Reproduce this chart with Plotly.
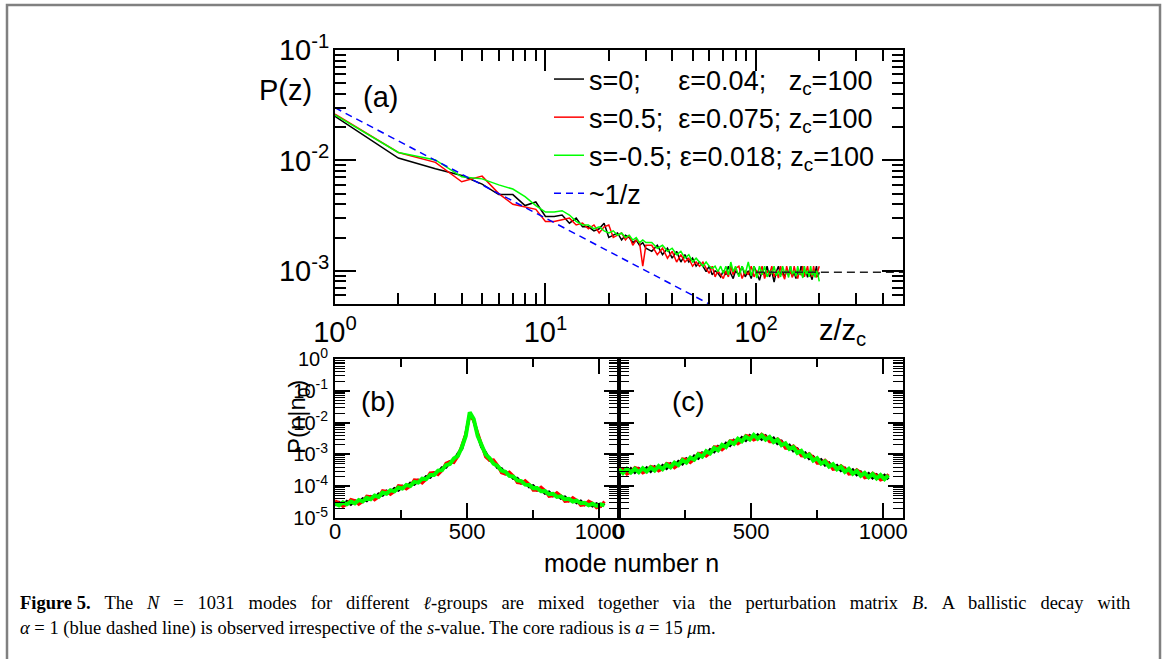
import math
import plotly.graph_objects as go

# ---------------- data ----------------
# panel (a): P(z) versus z/z_c
X_TOP = [1, 2, 3, 4, 5, 6, 7, 8, 9, 10, 11, 12, 13, 14, 15, 16, 17, 18, 19, 20,
         21, 22, 23, 24, 25, 26, 27, 28, 29, 30,
         32, 34, 36, 38, 40, 42, 44, 46, 48, 50, 52, 54, 56, 58, 60, 62, 64, 66, 68, 70,
         72, 74, 76, 78, 80,
         83, 86, 89, 92, 95, 98, 101, 104, 107, 110, 113, 116, 119, 122, 125, 128, 131,
         134, 137, 140, 143, 146, 149, 152, 155, 158, 161, 164, 167, 170, 173, 176, 179,
         182, 185, 188, 191, 194, 197, 200]

P_S0 = [0.0250, 0.0105, 0.0084, 0.0073, 0.0061, 0.0049, 0.0049, 0.0039, 0.0042, 0.0031,
        0.0031, 0.0032, 0.0027, 0.0030, 0.0025, 0.0025, 0.0023, 0.0024, 0.0027, 0.0020,
        0.0021, 0.0022, 0.0019, 0.0021, 0.0020, 0.0018, 0.0019, 0.0017, 0.0018, 0.0016,
        0.0015, 0.0017, 0.0014, 0.0016, 0.0013, 0.0015, 0.0012, 0.0014, 0.0012, 0.0013,
        0.0011, 0.0012, 0.0011, 0.00098, 0.0011, 0.00092, 0.0010, 0.00095, 0.00088, 0.0010,
        0.00092, 0.0011, 0.00094, 0.00085, 0.0010,
        0.00092, 0.0011, 0.00088, 0.0010, 0.00085, 0.0011, 0.00095, 0.00082, 0.0010, 0.00093,
        0.0011, 0.00088, 0.0010, 0.00079, 0.00098, 0.0011, 0.00092, 0.00098, 0.00088, 0.0010,
        0.00094, 0.0011, 0.00089, 0.00097, 0.00085, 0.0010, 0.00092, 0.0011, 0.00088, 0.00096,
        0.0010, 0.00087, 0.0010, 0.00091, 0.00083, 0.0010, 0.00094, 0.0011, 0.00088, 0.00097]

P_S05 = [0.0262, 0.0118, 0.0096, 0.0064, 0.0072, 0.0050, 0.0040, 0.0038, 0.0036, 0.0028,
         0.0028, 0.0029, 0.0030, 0.0026, 0.0027, 0.0024, 0.0026, 0.0022, 0.0025, 0.0026,
         0.0020, 0.0021, 0.0022, 0.0019, 0.0021, 0.0017, 0.0019, 0.0018, 0.0011, 0.0017,
         0.0017, 0.0014, 0.0016, 0.0013, 0.0015, 0.0012, 0.0014, 0.0012, 0.0013, 0.0011,
         0.0012, 0.0011, 0.0012, 0.00105, 0.00095, 0.0011, 0.00088, 0.0010, 0.00093, 0.00085,
         0.0010, 0.00088, 0.0011, 0.00092, 0.00105,
         0.0011, 0.00085, 0.0010, 0.00092, 0.0011, 0.00088, 0.0010, 0.00094, 0.0011, 0.00085,
         0.0010, 0.00092, 0.0011, 0.00088, 0.0010, 0.00086, 0.0011, 0.00093, 0.00084, 0.0011,
         0.00092, 0.00099, 0.00087, 0.0011, 0.00093, 0.00085, 0.0010, 0.00091, 0.0011, 0.00088,
         0.00097, 0.0011, 0.00089, 0.00099, 0.00088, 0.0011, 0.00092, 0.00087, 0.0010, 0.0011]

P_SM05 = [0.0258, 0.0118, 0.0101, 0.0071, 0.0068, 0.0060, 0.0055, 0.0047, 0.0039, 0.0034,
          0.0034, 0.0035, 0.0032, 0.0028, 0.0026, 0.0026, 0.0024, 0.0025, 0.0023, 0.0022,
          0.0023, 0.0021, 0.0022, 0.0020, 0.0021, 0.0019, 0.0020, 0.0018, 0.0019, 0.0018,
          0.0018, 0.0016, 0.0017, 0.0015, 0.0016, 0.0014, 0.0015, 0.0013, 0.0014, 0.0012,
          0.0013, 0.0012, 0.0011, 0.0012, 0.0011, 0.00105, 0.0011, 0.00098, 0.0011, 0.00095,
          0.0011, 0.00092, 0.0012, 0.00098, 0.0011,
          0.00088, 0.0011, 0.00094, 0.0012, 0.00090, 0.0011, 0.00086, 0.0011, 0.00092, 0.0011,
          0.00088, 0.0010, 0.00094, 0.0011, 0.00090, 0.0010, 0.00088, 0.0011, 0.00095, 0.0010,
          0.00087, 0.0011, 0.00093, 0.0010, 0.00089, 0.0011, 0.00092, 0.0010, 0.00086, 0.0011,
          0.00093, 0.0010, 0.00088, 0.0011, 0.00091, 0.0010, 0.00087, 0.0010, 0.00093, 0.00080]

# ~1/z guide and saturation level 1/N
GUIDE_X = [1, 60]
GUIDE_Y = [0.03, 0.0005]
SAT_X = [100, 500]
SAT_Y = [0.00097, 0.00097]

# panels (b), (c): P(n|n0) versus mode number n
X_MODE = [0, 15, 30, 45, 60, 75, 90, 105, 120, 135, 150, 165, 180, 195, 210, 225, 240, 255,
          270, 285, 300, 315, 330, 345, 360, 375, 390, 405, 420, 435, 450, 465, 480, 495,
          510, 525, 540, 555, 570, 585, 600, 615, 630, 645, 660, 675, 690, 705, 720, 735,
          750, 765, 780, 795, 810, 825, 840, 855, 870, 885, 900, 915, 930, 945, 960, 975,
          990, 1005, 1020]

B_S0 = [2.5e-5, 3.1e-5, 2.5e-5, 3.3e-5, 2.7e-5, 3.5e-5, 3.0e-5, 4.0e-5, 3.5e-5, 4.7e-5,
        4.2e-5, 5.7e-5, 5.2e-5, 7.0e-5, 6.2e-5, 8.4e-5, 7.5e-5, 1.0e-4, 9.2e-5, 1.24e-4,
        1.14e-4, 1.55e-4, 1.43e-4, 2.0e-4, 1.9e-4, 2.7e-4, 2.6e-4, 3.8e-4, 3.9e-4, 5.9e-4,
        6.3e-4, 1.05e-3, 1.5e-3, 4.2e-3, 1.9e-2, 1.2e-2, 4.2e-3, 1.7e-3, 1.15e-3, 6.6e-4,
        5.9e-4, 3.8e-4, 3.6e-4, 2.45e-4, 2.45e-4, 1.75e-4, 1.78e-4, 1.25e-4, 1.32e-4, 9.5e-5,
        1.03e-4, 7.6e-5, 8.1e-5, 6.0e-5, 6.6e-5, 5.0e-5, 5.5e-5, 4.2e-5, 4.6e-5, 3.5e-5,
        3.9e-5, 3.0e-5, 3.4e-5, 2.6e-5, 2.96e-5, 2.4e-5, 2.8e-5, 2.3e-5, 2.9e-5]

B_S05 = [3.5e-5, 3.0e-5, 2.3e-5, 2.7e-5, 3.8e-5, 3.5e-5, 2.7e-5, 3.3e-5, 4.9e-5, 4.7e-5,
         3.7e-5, 4.6e-5, 7.2e-5, 6.9e-5, 5.5e-5, 6.8e-5, 1.04e-4, 1.0e-4, 8.2e-5, 1.0e-4,
         1.58e-4, 1.55e-4, 1.26e-4, 1.64e-4, 2.6e-4, 2.7e-4, 2.3e-4, 3.1e-4, 5.3e-4, 5.9e-4,
         5.5e-4, 8.6e-4, 1.9e-3, 4.4e-3, 1.7e-2, 1.15e-2, 4.8e-3, 1.95e-3, 8.4e-4, 6.5e-4,
         6.7e-4, 4.6e-4, 2.65e-4, 2.4e-4, 2.8e-4, 2.1e-4, 1.3e-4, 1.24e-4, 1.5e-4, 1.15e-4,
         7.5e-5, 7.5e-5, 9.3e-5, 7.3e-5, 4.8e-5, 5.0e-5, 6.3e-5, 5.0e-5, 3.3e-5, 3.4e-5,
         4.4e-5, 3.6e-5, 2.5e-5, 2.6e-5, 3.4e-5, 2.9e-5, 2.1e-5, 2.3e-5, 3.3e-5]

B_SM05 = [2.9e-5, 2.5e-5, 3.1e-5, 2.7e-5, 3.3e-5, 2.9e-5, 3.7e-5, 3.3e-5, 4.3e-5, 3.9e-5,
          5.1e-5, 4.6e-5, 6.3e-5, 5.8e-5, 7.5e-5, 6.9e-5, 9.1e-5, 8.4e-5, 1.1e-4, 1.02e-4,
          1.37e-4, 1.29e-4, 1.72e-4, 1.66e-4, 2.25e-4, 2.25e-4, 3.1e-4, 3.2e-4, 4.6e-4, 5.0e-4,
          7.4e-4, 9.0e-4, 1.65e-3, 3.8e-3, 2.1e-2, 1.3e-2, 3.8e-3, 1.85e-3, 1.0e-3, 7.6e-4,
          5.1e-4, 4.4e-4, 3.1e-4, 2.85e-4, 2.1e-4, 2.0e-4, 1.52e-4, 1.45e-4, 1.12e-4, 1.1e-4,
          8.7e-5, 8.8e-5, 6.9e-5, 7.0e-5, 5.6e-5, 5.8e-5, 4.6e-5, 4.8e-5, 3.9e-5, 4.0e-5,
          3.3e-5, 3.5e-5, 2.9e-5, 3.0e-5, 2.5e-5, 2.8e-5, 2.4e-5, 2.7e-5, 2.5e-5]

C_S0 = [2.6e-4, 3.5e-4, 2.6e-4, 3.55e-4, 2.7e-4, 3.6e-4, 2.8e-4, 3.8e-4, 2.95e-4, 4.1e-4,
        3.25e-4, 4.5e-4, 3.6e-4, 5.1e-4, 4.2e-4, 6.0e-4, 5.0e-4, 7.3e-4, 6.0e-4, 8.9e-4,
        7.6e-4, 1.12e-3, 9.6e-4, 1.41e-3, 1.2e-3, 1.78e-3, 1.51e-3, 2.24e-3, 1.9e-3, 2.8e-3,
        2.34e-3, 3.4e-3, 2.75e-3, 3.9e-3, 3.1e-3, 4.1e-3, 3.0e-3, 3.8e-3, 2.7e-3, 3.25e-3,
        2.2e-3, 2.58e-3, 1.7e-3, 1.96e-3, 1.29e-3, 1.48e-3, 9.7e-4, 1.12e-3, 7.4e-4, 8.5e-4,
        5.75e-4, 6.8e-4, 4.6e-4, 5.4e-4, 3.7e-4, 4.5e-4, 3.1e-4, 3.7e-4, 2.6e-4, 3.25e-4,
        2.3e-4, 2.8e-4, 2.0e-4, 2.5e-4, 1.82e-4, 2.3e-4, 1.7e-4, 2.2e-4, 1.66e-4]

C_S05 = [3.8e-4, 3.3e-4, 2.4e-4, 2.8e-4, 3.9e-4, 3.5e-4, 2.6e-4, 3.0e-4, 4.2e-4, 3.9e-4,
         3.0e-4, 3.5e-4, 5.2e-4, 4.9e-4, 3.8e-4, 4.7e-4, 7.2e-4, 6.9e-4, 5.5e-4, 7.0e-4,
         1.09e-3, 1.07e-3, 8.8e-4, 1.11e-3, 1.73e-3, 1.7e-3, 1.39e-3, 1.76e-3, 2.7e-3, 2.7e-3,
         2.15e-3, 2.65e-3, 3.95e-3, 3.7e-3, 2.85e-3, 3.2e-3, 4.3e-3, 3.6e-3, 2.5e-3, 2.5e-3,
         3.1e-3, 2.5e-3, 1.56e-3, 1.53e-3, 1.85e-3, 1.42e-3, 9.0e-4, 8.8e-4, 1.06e-3, 8.2e-4,
         5.3e-4, 5.3e-4, 6.6e-4, 5.1e-4, 3.4e-4, 3.5e-4, 4.4e-4, 3.6e-4, 2.4e-4, 2.5e-4,
         3.3e-4, 2.7e-4, 1.83e-4, 1.97e-4, 2.6e-4, 2.2e-4, 1.56e-4, 1.72e-4, 2.4e-4]

C_SM05 = [3.5e-4, 2.6e-4, 3.5e-4, 2.7e-4, 3.55e-4, 2.75e-4, 3.7e-4, 2.9e-4, 3.9e-4, 3.1e-4,
          4.3e-4, 3.4e-4, 4.8e-4, 3.9e-4, 5.5e-4, 4.6e-4, 6.6e-4, 5.5e-4, 8.0e-4, 6.8e-4,
          1.0e-3, 8.5e-4, 1.26e-3, 1.07e-3, 1.59e-3, 1.35e-3, 2.0e-3, 1.7e-3, 2.5e-3, 2.13e-3,
          3.1e-3, 2.57e-3, 3.6e-3, 2.95e-3, 4.1e-3, 3.1e-3, 4.0e-3, 2.9e-3, 3.55e-3, 2.45e-3,
          2.9e-3, 1.95e-3, 2.25e-3, 1.48e-3, 1.7e-3, 1.12e-3, 1.29e-3, 8.5e-4, 9.8e-4, 6.4e-4,
          7.6e-4, 5.1e-4, 6.0e-4, 4.1e-4, 4.9e-4, 3.4e-4, 4.1e-4, 2.8e-4, 3.5e-4, 2.45e-4,
          3.0e-4, 2.13e-4, 2.6e-4, 1.9e-4, 2.4e-4, 1.74e-4, 2.24e-4, 1.66e-4, 2.2e-4]

NB = "\u00a0"
LEGEND_NAMES = [
    "s=0;" + NB * 5 + "\u03b5=0.04;" + NB * 3 + "z<sub>c</sub>=100",
    "s=0.5;" + NB * 2 + "\u03b5=0.075;" + NB + "z<sub>c</sub>=100",
    "s=-0.5;" + NB + "\u03b5=0.018;" + NB + "z<sub>c</sub>=100",
    "~1/z",
]
COLORS = ["#000000", "#ff0000", "#00ff00", "#0000ff"]

TOP_XTICKS = [1, 10, 100]
TOP_XTEXT = ["10<sup>0</sup>", "10<sup>1</sup>", "10<sup>2</sup>"]
TOP_YTICKS = [0.1, 0.01, 0.001]
TOP_YTEXT = ["10<sup>-1</sup>", "10<sup>-2</sup>", "10<sup>-3</sup>"]
BOT_YTICKS = [1, 0.1, 0.01, 0.001, 0.0001, 0.00001]
BOT_YTEXT = ["10<sup>0</sup>", "10<sup>-1</sup>", "10<sup>-2</sup>", "10<sup>-3</sup>",
             "10<sup>-4</sup>", "10<sup>-5</sup>"]
BOT_XTICKS = [0, 500, 1000]
BOT_XTEXT = ["0", "500", "1000"]

CAPTION_1_WORDS = ["<b>Figure 5.</b>", "The", "<i>N</i>", "=", "1031", "modes", "for",
                   "different", "<i>\u2113</i>-groups", "are", "mixed", "together", "via",
                   "the", "perturbation", "matrix", "<i>B</i>.", "A", "ballistic", "decay",
                   "with"]
CAPTION_2 = ("<i>\u03b1</i> = 1 (blue dashed line) is observed irrespective of the <i>s</i>-value. "
             "The core radious is <i>a</i> = 15 <i>\u03bc</i>m.")

# ---------------- layout helpers ----------------
W, H = 1165, 659
FONT = "Liberation Sans, Arial, sans-serif"
SERIF = "Liberation Serif, Times New Roman, serif"


def fx(p):
    return p / W


def fy(p):
    return 1 - p / H


top_minor_x = [m * 10 ** k for k in range(0, 3) for m in range(2, 10) if m * 10 ** k <= 500]
top_minor_y = [m * 10 ** k for k in range(-4, -1) for m in range(2, 10) if m * 10 ** k >= 5e-4]
bot_minor_y = [m * 10 ** k for k in range(-5, 0) for m in range(2, 10)]

fig = go.Figure()

# panel (a)
for ys, name, col in zip([P_S0, P_S05, P_SM05], LEGEND_NAMES[:3], COLORS[:3]):
    fig.add_trace(go.Scatter(x=X_TOP, y=ys, mode="lines", name=name, legendgroup=name,
                             line=dict(color=col, width=1.5), xaxis="x", yaxis="y"))
fig.add_trace(go.Scatter(x=SAT_X, y=SAT_Y, mode="lines", showlegend=False,
                         line=dict(color="#222222", width=1.5, dash="8px,5px"), xaxis="x", yaxis="y"))
fig.add_trace(go.Scatter(x=GUIDE_X, y=GUIDE_Y, mode="lines", name=LEGEND_NAMES[3],
                         legendgroup="guide",
                         line=dict(color=COLORS[3], width=1.5, dash="7px,5px"), xaxis="x", yaxis="y"))

# panels (b) and (c)
widths = [3, 3, 4]
for ys, col, w in zip([B_S0, B_S05, B_SM05], COLORS[:3], widths):
    fig.add_trace(go.Scatter(x=X_MODE, y=ys, mode="lines", showlegend=False,
                             line=dict(color=col, width=w), xaxis="x2", yaxis="y2"))
for ys, col, w in zip([C_S0, C_S05, C_SM05], COLORS[:3], widths):
    fig.add_trace(go.Scatter(x=X_MODE, y=ys, mode="lines", showlegend=False,
                             line=dict(color=col, width=w), xaxis="x3", yaxis="y3"))

axis_common = dict(showline=True, linecolor="black", linewidth=2, mirror="ticks",
                   ticks="inside", tickcolor="black", tickwidth=1.5, showgrid=False,
                   zeroline=False, automargin=False)

fig.update_layout(
    width=W, height=H, margin=dict(l=0, r=0, t=0, b=0, pad=0, autoexpand=False),
    paper_bgcolor="white", plot_bgcolor="white",
    font=dict(family=FONT, color="black"),
    showlegend=True,
    legend=dict(x=fx(549), y=fy(55), xanchor="left", yanchor="top",
                bgcolor="rgba(0,0,0,0)", font=dict(size=27, family=FONT),
                itemwidth=30, tracegroupgap=2, traceorder="normal"),
    xaxis=dict(axis_common, type="log", domain=[fx(335), fx(903)], anchor="y",
               range=[0, math.log10(500)], tickmode="array", tickvals=TOP_XTICKS,
               ticktext=TOP_XTEXT, ticklen=21, tickfont=dict(size=29),
               ticklabelstandoff=1,
               minor=dict(tickmode="array", tickvals=top_minor_x, ticks="inside",
                          ticklen=11, tickwidth=1.5, tickcolor="black")),
    yaxis=dict(axis_common, type="log", domain=[fy(304), fy(50)], anchor="x",
               range=[math.log10(5e-4), -1], tickmode="array", tickvals=TOP_YTICKS,
               ticktext=TOP_YTEXT, ticklen=21, tickfont=dict(size=29),
               ticklabelstandoff=-2,
               minor=dict(tickmode="array", tickvals=top_minor_y, ticks="inside",
                          ticklen=11, tickwidth=1.5, tickcolor="black")),
    xaxis2=dict(axis_common, domain=[fx(335), fx(619)], anchor="y2", range=[0, 1075],
                tickmode="array", tickvals=BOT_XTICKS, ticktext=BOT_XTEXT, ticklen=15,
                tickfont=dict(size=22), ticklabelstandoff=-7,
                minor=dict(tickmode="array", tickvals=[250, 750], ticks="inside",
                           ticklen=8, tickwidth=1.5, tickcolor="black")),
    yaxis2=dict(axis_common, type="log", domain=[fy(518), fy(359)], anchor="x2",
                range=[-5, 0], tickmode="array", tickvals=BOT_YTICKS, ticktext=BOT_YTEXT,
                ticklen=15, tickfont=dict(size=20), ticklabelstandoff=1,
                minor=dict(tickmode="array", tickvals=bot_minor_y, ticks="inside",
                           ticklen=10, tickwidth=1.2, tickcolor="black")),
    xaxis3=dict(axis_common, domain=[fx(619), fx(903)], anchor="y3", range=[0, 1075],
                tickmode="array", tickvals=BOT_XTICKS, ticktext=BOT_XTEXT, ticklen=15,
                tickfont=dict(size=22), ticklabelstandoff=-7,
                minor=dict(tickmode="array", tickvals=[250, 750], ticks="inside",
                           ticklen=8, tickwidth=1.5, tickcolor="black")),
    yaxis3=dict(axis_common, type="log", domain=[fy(518), fy(359)], anchor="x3",
                range=[-5, 0], tickmode="array", tickvals=BOT_YTICKS, showticklabels=False,
                ticklen=15,
                minor=dict(tickmode="array", tickvals=bot_minor_y, ticks="inside",
                           ticklen=10, tickwidth=1.2, tickcolor="black")),
)

ann = []


def add_text(text, x, y, size, family=FONT, xanchor="center", **kw):
    d = dict(text=text, x=fx(x), y=fy(y), xref="paper", yref="paper", showarrow=False,
             xanchor=xanchor, yanchor="middle",
             font=dict(size=size, family=family, color="black"))
    d.update(kw)
    ann.append(d)


add_text("P(z)", 285, 90, 29)
add_text("(a)", 380, 97, 29)
add_text("z/z<sub>c</sub>", 842, 332, 29)
add_text("(b)", 378, 401, 28)
add_text("(c)", 688, 401, 28)
add_text("P(n|n<sub>0</sub>)", 298, 417, 24, textangle=-90)
add_text("mode number n", 632, 563, 25)
# first caption line is justified in the source: wider word gaps
cap1 = (" \u2002").join(CAPTION_1_WORDS)
add_text(cap1, 18, 603, 18.5, family=SERIF, xanchor="left", align="left")
add_text(CAPTION_2, 18, 628, 18.5, family=SERIF, xanchor="left", align="left")
fig.update_layout(annotations=ann)

# outer gray frame of the figure box
fig.add_shape(type="rect", xref="paper", yref="paper", x0=fx(7), x1=fx(1160), y0=-0.1,
              y1=fy(5), line=dict(color="#808080", width=2.5), layer="below")

fig.write_html("out.html", config={"displayModeBar": False},
               post_script="document.body.style.margin='0px';")
